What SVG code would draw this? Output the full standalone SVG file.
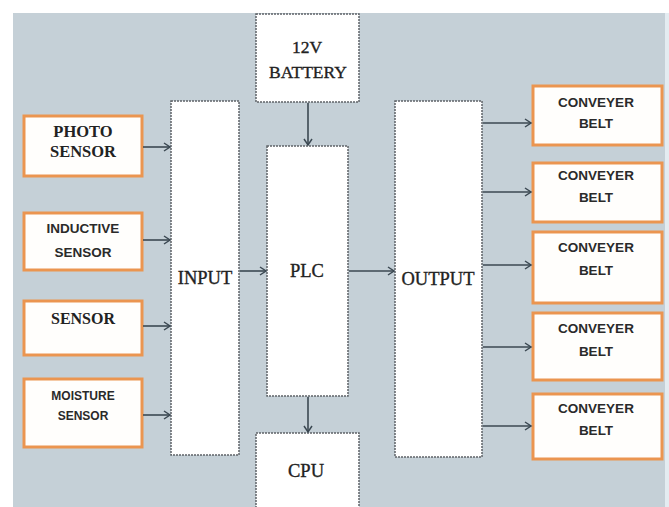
<svg xmlns="http://www.w3.org/2000/svg" width="669" height="507" viewBox="0 0 669 507">
<defs>
<style>
.bg{fill:#c5d0d7}
.dash{fill:#fff;stroke:#5f6368;stroke-width:1.5;stroke-dasharray:2 1}
.orange{fill:#fffefc;stroke:#eb9550;stroke-width:3}
.serif{font-family:"Liberation Serif","DejaVu Serif",serif;fill:#222;text-anchor:middle}
.reg{stroke:#222;stroke-width:0.35}
.sans{font-family:"Liberation Sans",Arial,sans-serif;font-weight:bold;fill:#2a2a2a;text-anchor:middle}
.conn line{stroke:#3b4852;stroke-width:1.6;marker-end:url(#ah)}
</style>
<marker id="ah" markerWidth="10" markerHeight="10" refX="7" refY="5" orient="auto" markerUnits="userSpaceOnUse">
<path d="M1,1 L7,5 L1,9" fill="none" stroke="#3b4852" stroke-width="1.5"/>
</marker>
</defs>
<rect x="0" y="0" width="669" height="507" fill="#fff"/>
<rect class="bg" x="13" y="13" width="652" height="494"/>
<rect x="665" y="13" width="4" height="494" fill="#e4ecf1"/>

<g id="photo"><rect class="orange" x="24" y="116" width="118" height="60"/>
<text class="serif" x="83" y="137" font-size="16.5" font-weight="bold">PHOTO</text>
<text class="serif" x="83" y="157" font-size="16.5" font-weight="bold">SENSOR</text></g>
<g id="inductive"><rect class="orange" x="24" y="213" width="118" height="57"/>
<text class="sans" x="83" y="233" font-size="13.5">INDUCTIVE</text>
<text class="sans" x="83" y="257" font-size="13.5">SENSOR</text></g>
<g id="sensor"><rect class="orange" x="24" y="301" width="118" height="54"/>
<text class="serif" x="83" y="324" font-size="16" font-weight="bold">SENSOR</text></g>
<g id="moisture"><rect class="orange" x="24" y="379" width="118" height="68"/>
<text class="sans" x="83" y="400" font-size="12">MOISTURE</text>
<text class="sans" x="83" y="420" font-size="12">SENSOR</text></g>

<g id="input"><rect class="dash" x="171" y="101" width="68" height="354"/>
<text class="serif reg" x="205" y="284" font-size="18.5">INPUT</text></g>
<g id="battery"><rect class="dash" x="256" y="14" width="103" height="88"/>
<text class="serif reg" x="307" y="53" font-size="17.5">12V</text>
<text class="serif reg" x="308" y="78" font-size="17.5">BATTERY</text></g>
<g id="plc"><rect class="dash" x="267" y="146" width="81" height="250"/>
<text class="serif reg" x="307" y="277" font-size="18.5">PLC</text></g>
<g id="cpu"><rect class="dash" x="256" y="433" width="103" height="80"/>
<text class="serif reg" x="306" y="477" font-size="18.5">CPU</text></g>
<g id="output"><rect class="dash" x="395" y="101" width="87" height="356"/>
<text class="serif reg" x="438" y="285" font-size="18.5">OUTPUT</text></g>

<g id="belt1"><rect class="orange" x="533" y="86" width="129" height="59"/>
<text class="sans" x="596" y="107" font-size="13.5">CONVEYER</text>
<text class="sans" x="596" y="128" font-size="13.5">BELT</text></g>
<g id="belt2"><rect class="orange" x="533" y="163" width="129" height="59"/>
<text class="sans" x="596" y="180" font-size="13.5">CONVEYER</text>
<text class="sans" x="596" y="202" font-size="13.5">BELT</text></g>
<g id="belt3"><rect class="orange" x="533" y="232" width="129" height="71"/>
<text class="sans" x="596" y="252" font-size="13.5">CONVEYER</text>
<text class="sans" x="596" y="275" font-size="13.5">BELT</text></g>
<g id="belt4"><rect class="orange" x="533" y="313" width="129" height="67"/>
<text class="sans" x="596" y="333" font-size="13.5">CONVEYER</text>
<text class="sans" x="596" y="356" font-size="13.5">BELT</text></g>
<g id="belt5"><rect class="orange" x="533" y="394" width="129" height="65"/>
<text class="sans" x="596" y="413" font-size="13.5">CONVEYER</text>
<text class="sans" x="596" y="435" font-size="13.5">BELT</text></g>

<g id="connectors" class="conn">
<line x1="143" y1="147" x2="170" y2="147"/>
<line x1="143" y1="240" x2="170" y2="240"/>
<line x1="143" y1="326" x2="170" y2="326"/>
<line x1="143" y1="415" x2="170" y2="415"/>
<line x1="240" y1="271" x2="266" y2="271"/>
<line x1="349" y1="271" x2="394" y2="271"/>
<line x1="308" y1="103" x2="308" y2="145"/>
<line x1="308" y1="397" x2="308" y2="432"/>
<line x1="483" y1="123" x2="531" y2="123"/>
<line x1="483" y1="192" x2="531" y2="192"/>
<line x1="483" y1="265" x2="531" y2="265"/>
<line x1="483" y1="347" x2="531" y2="347"/>
<line x1="483" y1="426" x2="531" y2="426"/>
</g>
</svg>
